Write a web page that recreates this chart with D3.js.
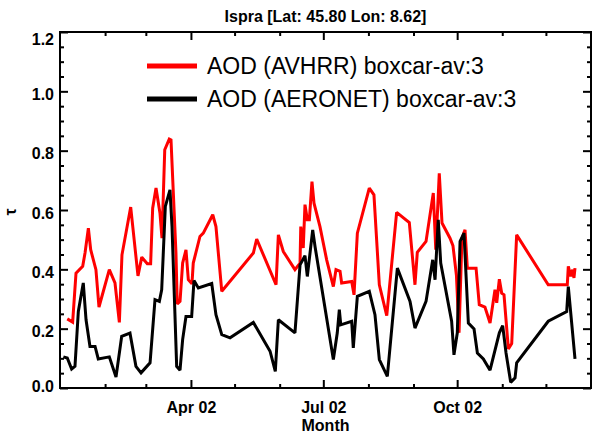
<!DOCTYPE html>
<html>
<head>
<meta charset="utf-8">
<script src="https://cdn.jsdelivr.net/npm/d3@7/dist/d3.min.js"></script>
<style>
  html, body { margin: 0; padding: 0; background: #fff; }
  svg { display: block; }
  text { font-family: "Liberation Sans", Arial, sans-serif; }
</style>
</head>
<body>
<svg id="chart" width="592" height="436"></svg>
<script>
// ---- data (day of year 2002, AOD value) ----
const titleText = "Ispra [Lat: 45.80 Lon: 8.62]";
const xTitle = "Month";
const yTitle = "τ";
const seriesNames = ["AOD (AVHRR) boxcar-av:3", "AOD (AERONET) boxcar-av:3"];
const seriesColors = ["#ff0000", "#000000"];
const yTickValues = [0.0, 0.2, 0.4, 0.6, 0.8, 1.0, 1.2];
const xMajorMonths = [3, 6, 9];           // Apr, Jul, Oct (0-based)
const xTickLabels = ["Apr 02", "Jul 02", "Oct 02"];

const avhrrDays = [5.0,8.7,11.0,15.6,17.2,19.5,21.1,24.7,26.8,33.9,37.8,40.8,42.6,48.6,53.6,56.2,60.0,62.3,63.7,66.0,68.7,70.1,72.0,75.1,76.3,79.7,80.6,82.5,84.3,86.6,88.2,90.7,91.6,96.2,98.5,105.0,107.2,111.2,132.9,135.2,148.5,150.1,153.5,161.5,165.0,165.5,167.2,168.4,170.0,171.4,173.2,174.6,178.7,183.3,187.9,189.7,192.5,193.6,200.5,202.1,204.4,212.6,215.8,219.5,224.6,231.4,240.1,244.0,245.6,251.6,256.6,258.3,260.7,262.6,268.1,270.1,272.5,274.3,276.3,278.4,280.0,286.0,288.2,292.1,295.6,299.0,300.2,302.0,303.6,305.2,308.2,310.5,313.9,335.6,348.7,349.4,351.1,352.4,353.3,354.0];
const avhrrVals = [0.233,0.222,0.387,0.41,0.455,0.539,0.466,0.399,0.273,0.399,0.354,0.221,0.449,0.61,0.378,0.441,0.419,0.419,0.606,0.674,0.59,0.505,0.803,0.839,0.836,0.456,0.283,0.292,0.421,0.466,0.365,0.351,0.421,0.511,0.522,0.584,0.544,0.326,0.455,0.502,0.348,0.516,0.46,0.399,0.421,0.544,0.472,0.618,0.567,0.567,0.696,0.623,0.544,0.432,0.342,0.399,0.393,0.354,0.359,0.314,0.522,0.674,0.651,0.348,0.244,0.592,0.558,0.348,0.457,0.494,0.657,0.466,0.724,0.556,0.505,0.48,0.38,0.186,0.505,0.533,0.404,0.404,0.281,0.273,0.219,0.331,0.287,0.367,0.32,0.314,0.132,0.15,0.516,0.348,0.348,0.41,0.376,0.399,0.371,0.404];

const aeronetDays = [2.3,5.0,8.0,10.3,12.6,16.0,17.9,20.6,24.1,26.3,33.9,38.5,42.4,48.1,52.2,55.7,61.9,65.3,68.3,69.9,72.4,75.6,77.0,80.2,82.5,84.3,86.6,90.5,92.1,95.1,104.3,107.2,111.2,116.9,132.9,144.4,148.0,150.1,161.5,165.0,168.4,170.0,173.7,175.3,187.9,190.6,192.0,193.0,200.5,201.6,204.4,212.6,216.5,219.5,225.0,231.9,240.6,244.0,251.6,256.2,257.8,260.0,261.7,269.2,270.8,273.1,275.0,277.7,280.7,284.6,286.9,291.0,295.6,302.0,304.3,306.6,309.8,312.8,313.9,335.6,348.3,349.4,354.0];
const aeronetVals = [0.105,0.101,0.064,0.073,0.258,0.354,0.23,0.14,0.14,0.098,0.105,0.037,0.174,0.185,0.073,0.051,0.085,0.298,0.292,0.331,0.612,0.668,0.544,0.073,0.06,0.163,0.241,0.241,0.362,0.337,0.352,0.247,0.18,0.169,0.221,0.124,0.056,0.23,0.186,0.415,0.446,0.376,0.533,0.477,0.096,0.186,0.264,0.213,0.225,0.135,0.309,0.326,0.247,0.096,0.039,0.404,0.292,0.202,0.292,0.432,0.365,0.567,0.421,0.225,0.112,0.186,0.494,0.522,0.219,0.199,0.118,0.098,0.06,0.186,0.21,0.118,0.019,0.034,0.085,0.225,0.258,0.342,0.098];

// ---- layout ----
const W = 592, H = 436;
const L = 60, R = 591, T = 32, B = 388;
const start = Date.UTC(2002, 0, 1);
const toDate = d => new Date(start + d * 864e5);

const svg = d3.select("#chart");
const x = d3.scaleUtc().domain([new Date(start), new Date(Date.UTC(2003, 0, 1))]).range([L, R]);
const y = d3.scaleLinear().domain([0, 1.2]).range([B, T]);

const monthTicks = d3.utcMonth.range(new Date(Date.UTC(2002, 1, 1)), new Date(Date.UTC(2003, 0, 1)));
const majorX = xMajorMonths.map(m => new Date(Date.UTC(2002, m, 1)));
const minorX = monthTicks.filter(t => !xMajorMonths.includes(t.getUTCMonth()));
const minorY = d3.range(0.05, 1.2, 0.05).filter(v => Math.abs(v * 5 - Math.round(v * 5)) > 1e-6);

function styleAxis(g) {
  g.select(".domain").remove();
  g.selectAll(".tick line").attr("stroke", "#000").attr("stroke-width", 2);
}

// series lines
const line = d3.line().x(d => x(d[0])).y(d => y(d[1]));
const series = [
  avhrrDays.map((d, i) => [toDate(d), avhrrVals[i]]),
  aeronetDays.map((d, i) => [toDate(d), aeronetVals[i]])
];
const plot = svg.append("g");
series.forEach((s, i) => {
  plot.append("path").datum(s)
    .attr("d", line)
    .attr("fill", "none")
    .attr("stroke", seriesColors[i])
    .attr("stroke-width", 3)
    .attr("stroke-linejoin", "miter")
    .attr("stroke-miterlimit", 2);
});

// bottom axis: minor
svg.append("g").attr("transform", `translate(0,${B})`)
  .call(d3.axisBottom(x).tickValues(minorX).tickSize(-4).tickFormat(""))
  .call(styleAxis);
// bottom axis: major with labels
const bx = svg.append("g").attr("transform", `translate(0,${B})`)
  .call(d3.axisBottom(x).tickValues(majorX).tickSize(-8).tickPadding(14)
    .tickFormat((d, i) => xTickLabels[i]))
  .call(styleAxis);
bx.selectAll("text").attr("font-size", 16).attr("font-weight", "bold").attr("fill", "#000").attr("dy", "0.71em");
// top axis
svg.append("g").attr("transform", `translate(0,${T})`)
  .call(d3.axisTop(x).tickValues(minorX).tickSize(-4).tickFormat("")).call(styleAxis);
svg.append("g").attr("transform", `translate(0,${T})`)
  .call(d3.axisTop(x).tickValues(majorX).tickSize(-8).tickFormat("")).call(styleAxis);

// left axis
svg.append("g").attr("transform", `translate(${L},0)`)
  .call(d3.axisLeft(y).tickValues(minorY).tickSize(-4).tickFormat("")).call(styleAxis);
const ly = svg.append("g").attr("transform", `translate(${L},0)`)
  .call(d3.axisLeft(y).tickValues(yTickValues).tickSize(-8).tickPadding(6).tickFormat(d3.format(".1f")))
  .call(styleAxis);
ly.selectAll("text").attr("font-size", 16).attr("font-weight", "bold").attr("fill", "#000")
  .attr("dy", d => d === 1.2 ? "0.78em" : d === 0 ? "0.2em" : "0.52em");
// right axis
svg.append("g").attr("transform", `translate(${R},0)`)
  .call(d3.axisRight(y).tickValues(minorY).tickSize(-4).tickFormat("")).call(styleAxis);
svg.append("g").attr("transform", `translate(${R},0)`)
  .call(d3.axisRight(y).tickValues(yTickValues).tickSize(-8).tickFormat("")).call(styleAxis);

// frame
svg.append("rect").attr("x", L).attr("y", T).attr("width", R - L).attr("height", B - T)
  .attr("fill", "none").attr("stroke", "#000").attr("stroke-width", 2);

// title
svg.append("text").attr("x", (L + R) / 2).attr("y", 22).attr("text-anchor", "middle")
  .attr("font-size", 16).attr("font-weight", "bold").text(titleText);
// x title
svg.append("text").attr("x", (L + R) / 2).attr("y", 431).attr("text-anchor", "middle")
  .attr("font-size", 16).attr("font-weight", "bold").text(xTitle);
// y title
svg.append("text").attr("transform", "translate(16,212) rotate(-90)").attr("text-anchor", "middle")
  .attr("font-size", 16).attr("font-weight", "bold").text(yTitle);

// legend
const legY = [66, 99];
seriesNames.forEach((name, i) => {
  svg.append("line").attr("x1", 147).attr("x2", 197).attr("y1", legY[i]).attr("y2", legY[i])
    .attr("stroke", seriesColors[i]).attr("stroke-width", 5);
  svg.append("text").attr("x", 207).attr("y", legY[i] + 8).attr("font-size", 23)
    .attr("fill", "#000").text(name);
});
</script>
</body>
</html>
